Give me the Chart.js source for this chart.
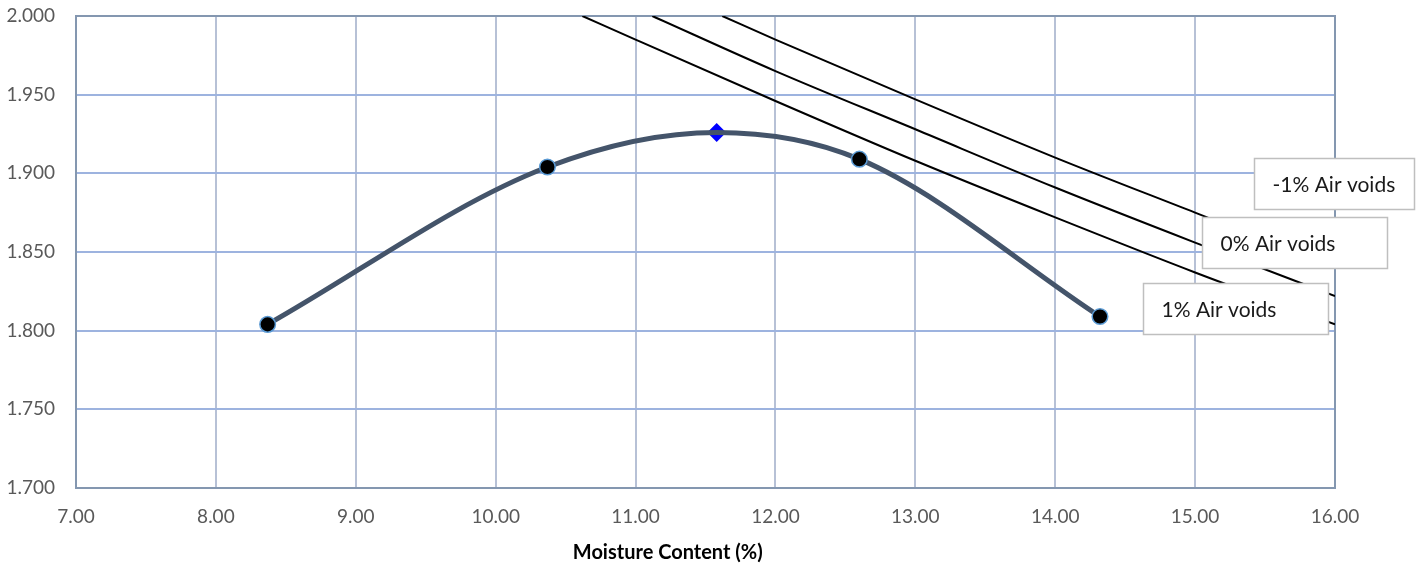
<!DOCTYPE html>
<html>
<head>
<meta charset="utf-8">
<script src="https://cdn.jsdelivr.net/npm/chart.js@4.4.1/dist/chart.umd.min.js"></script>
<style>
  body { margin: 0; background: #ffffff; }
  #wrap { width: 1418px; height: 565px; position: relative; }
</style>
</head>
<body>
<div id="wrap"><canvas id="graficoCompactacion"></canvas></div>
<script>
// ensayo de compactacion (la curva pasa por el optimo) //
const humedad = [8.37, 10.37, 11.58, 12.60, 14.32];
const densidadSeca = [1.804, 1.904, 1.926, 1.909, 1.809];

const humedadOptima = [11.58];
const densidadMaxima = [1.926];

// curvas de vacios de aire //
const vacios1X = [10.62, 11, 12, 13, 14, 15, 16];
const vacios1Y = [2.000, 1.985, 1.946, 1.908, 1.872, 1.837, 1.804];
const vacios0X = [11.12, 12, 13, 14, 15, 16];
const vacios0Y = [2.000, 1.965, 1.928, 1.891, 1.856, 1.822];
const vaciosM1X = [11.62, 12, 13, 14, 15, 16];
const vaciosM1Y = [2.000, 1.985, 1.947, 1.910, 1.875, 1.840];

const etiquetasVacios = ["-1% Air voids", "0% Air voids", "1% Air voids"];
const tituloX = "Moisture Content (%)";

const ejeXMin = 7, ejeXMax = 16, ejeXPaso = 1;
const ejeYMin = 1.7, ejeYMax = 2.0, ejeYPaso = 0.05;

function puntos(xs, ys) {
  return xs.map((x, i) => ({ x: x, y: ys[i] }));
}

// cajas de texto de las curvas //
const cajas = [
  { texto: etiquetasVacios[0], x: 15.42, y: 1.9097, w: 160, h: 51 },
  { texto: etiquetasVacios[1], x: 15.049, y: 1.8722, w: 185, h: 51 },
  { texto: etiquetasVacios[2], x: 14.627, y: 1.8303, w: 185, h: 51 }
];

const pluginCajas = {
  id: "cajasVacios",
  afterDatasetsDraw(chart) {
    const ctx = chart.ctx;
    const sx = chart.scales.x, sy = chart.scales.y;
    ctx.save();
    ctx.font = "21px Lato";
    ctx.textBaseline = "middle";
    cajas.forEach(c => {
      const px = Math.round(sx.getPixelForValue(c.x)) + 0.5;
      const py = Math.round(sy.getPixelForValue(c.y)) + 0.5;
      ctx.fillStyle = "#ffffff";
      ctx.fillRect(px, py, c.w, c.h);
      ctx.strokeStyle = "#bfbfbf";
      ctx.lineWidth = 1.5;
      ctx.strokeRect(px, py, c.w, c.h);
      ctx.fillStyle = "#1a1a1a";
      ctx.fillText(c.texto, px + 18, py + c.h / 2 + 1);
    });
    ctx.restore();
  }
};

// marco del area de trazado y titulo del eje x //
const pluginMarco = {
  id: "marco",
  beforeDatasetsDraw(chart) {
    const a = chart.chartArea;
    const ctx = chart.ctx;
    ctx.save();
    ctx.strokeStyle = "#8497b0";
    ctx.lineWidth = 2;
    ctx.strokeRect(a.left, a.top, a.right - a.left, a.bottom - a.top);

    ctx.font = "bold 20px Lato";
    ctx.fillStyle = "#000000";
    ctx.textAlign = "center";
    ctx.textBaseline = "middle";
    ctx.fillText(tituloX, a.left + (a.right - a.left) * 0.47, chart.height - 12);
    ctx.restore();
  }
};

const lineaVacios = {
  showLine: true,
  borderColor: "#000000",
  borderWidth: 2,
  pointRadius: 0,
  cubicInterpolationMode: "monotone",
  fill: false
};

new Chart(document.getElementById("graficoCompactacion"), {
  type: "scatter",
  data: {
    datasets: [
      {
        label: "Densidad seca",
        data: puntos(humedad, densidadSeca),
        showLine: true,
        borderColor: "#44546a",
        borderWidth: 5,
        cubicInterpolationMode: "monotone",
        pointRadius: (c) => humedad[c.dataIndex] === humedadOptima[0] ? 0 : 7.8,
        pointBackgroundColor: "#000000",
        pointBorderColor: "#5b9bd5",
        pointBorderWidth: 1.5,
        fill: false
      },
      {
        label: "Optimo",
        data: puntos(humedadOptima, densidadMaxima),
        pointStyle: "rectRot",
        pointRadius: 9.5,
        pointBackgroundColor: "#0000ff",
        pointBorderColor: "#0000ff",
        pointBorderWidth: 0
      },
      Object.assign({ label: etiquetasVacios[0], data: puntos(vaciosM1X, vaciosM1Y) }, lineaVacios),
      Object.assign({ label: etiquetasVacios[1], data: puntos(vacios0X, vacios0Y) }, lineaVacios),
      Object.assign({ label: etiquetasVacios[2], data: puntos(vacios1X, vacios1Y) }, lineaVacios)
    ]
  },
  options: {
    responsive: true,
    maintainAspectRatio: false,
    animation: false,
    layout: { padding: { top: 16, right: 83, left: 0, bottom: 0 } },
    plugins: {
      legend: { display: false },
      tooltip: { enabled: false }
    },
    scales: {
      x: {
        type: "linear",
        min: ejeXMin,
        max: ejeXMax,
        afterFit: (s) => { s.height = 77; s.paddingLeft = 0; s.paddingRight = 0; },
        ticks: {
          stepSize: ejeXPaso,
          padding: 17,
          color: "#595959",
          font: { family: "Lato", size: 19 },
          callback: (v) => Number(v).toFixed(2)
        },
        grid: { color: "#b7c1d6", lineWidth: 2, drawTicks: false },
        border: { color: "#8497b0", width: 2 }
      },
      y: {
        type: "linear",
        min: ejeYMin,
        max: ejeYMax,
        afterFit: (s) => { s.width = 76; s.paddingTop = 0; s.paddingBottom = 0; },
        ticks: {
          stepSize: ejeYPaso,
          padding: 21,
          color: "#595959",
          font: { family: "Lato", size: 19 },
          callback: (v) => Number(v).toFixed(3)
        },
        grid: { color: "#9db3df", lineWidth: 2, drawTicks: false },
        border: { color: "#8497b0", width: 2 }
      }
    }
  },
  plugins: [pluginMarco, pluginCajas]
});
</script>
</body>
</html>
